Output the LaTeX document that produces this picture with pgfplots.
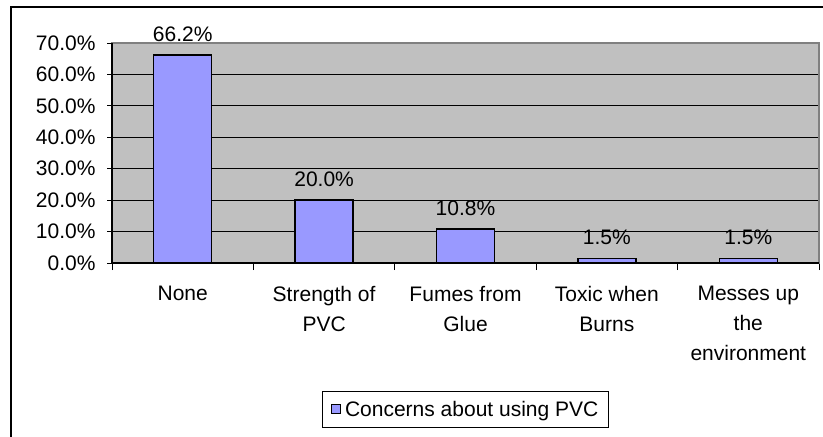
\documentclass[border=0pt]{standalone}
\usepackage{fontspec}
\setmainfont{Liberation Sans}
\usepackage{pgfplots}
\pgfplotsset{compat=1.18}
\definecolor{barblue}{HTML}{9999FF}
\definecolor{plotgray}{HTML}{C0C0C0}
\definecolor{bordergray}{HTML}{808080}
\begin{document}
\begin{tikzpicture}[x=1bp,y=1bp]
\useasboundingbox (0,0) rectangle (823,-437);
\draw[black, line width=2.2bp] (11,-437) -- (11,-7) -- (823,-7);
\begin{axis}[
  at={(112bp,-263bp)}, anchor=south west,
  scale only axis, width=707bp, height=220bp,
  xmin=-0.5, xmax=4.5, ymin=0, ymax=70,
  clip=false,
  font=\fontsize{21bp}{30bp}\selectfont,
  /pgf/number format/assume math mode=true,
  axis background/.style={fill=plotgray},
  axis line style={bordergray, line width=1.3bp},
  ybar, bar width=58bp,
  tick pos=left, tick align=outside,
  major tick length=5bp, minor tick length=7bp,
  tick style={black, line width=1bp},
  every major x tick/.style={draw=none},
  xtick={0,1,2,3,4},
  minor xtick={-0.5,0.5,1.5,2.5,3.5,4.5},
  xticklabels={None,{Strength of\\PVC},{Fumes from\\Glue},{Toxic when\\Burns},{Messes up\\the\\environment}},
  xticklabel style={align=center, anchor=north, yshift=-15bp},
  ytick={0,10,20,30,40,50,60},
  yticklabels={0.0\%,10.0\%,20.0\%,30.0\%,40.0\%,50.0\%,60.0\%},
  extra y ticks={70}, extra y tick labels={70.0\%},
  extra y tick style={grid=none},
  yticklabel style={anchor=east, xshift=-8bp},
  ymajorgrids, grid style={black, line width=1bp},
  nodes near coords={\pgfmathprintnumber[fixed,fixed zerofill,precision=1]{\pgfplotspointmeta}\%},
  point meta=y,
  every node near coord/.append style={anchor=south, yshift=9.5bp, black},
  legend style={at={(0.5,-0.58)}, anchor=north, draw=black, line width=0.8bp,
    inner xsep=8bp, inner ysep=8bp, font=\fontsize{21bp}{25bp}\selectfont},
  legend image code/.code={\path[draw=none,fill=none] (0bp,0bp) -- (12bp,0bp);\draw[fill=barblue, draw=black, line width=0.8bp] (0bp,-4.5bp) rectangle (9bp,4.5bp);},
]
\addplot[fill=barblue, draw=black, line width=1.3bp] coordinates {(0,66.2) (1,20.0) (2,10.8) (3,1.5) (4,1.5)};
\addlegendentry{Concerns about using PVC}
\draw[black, line width=1.3bp] (rel axis cs:0,1) -- (rel axis cs:0,0) -- (rel axis cs:1,0);
\end{axis}
\end{tikzpicture}
\end{document}
